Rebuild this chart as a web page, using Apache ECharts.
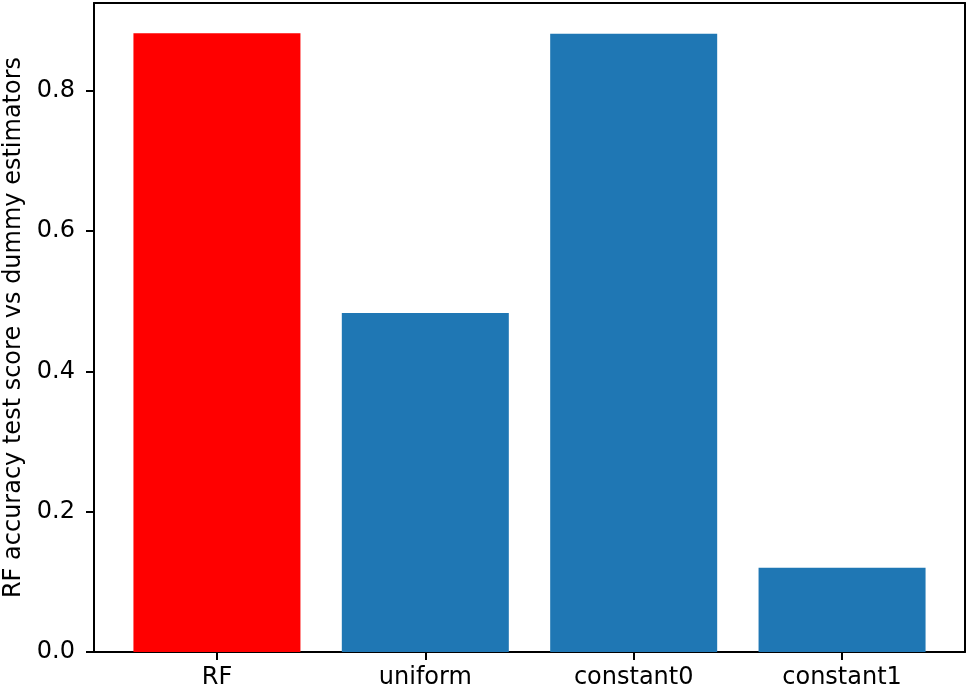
<!DOCTYPE html>
<html>
<head>
<meta charset="utf-8">
<script src="https://cdn.jsdelivr.net/npm/echarts@6/dist/echarts.min.js"></script>
<style>
  html, body { margin: 0; padding: 0; background: #fff; }
  #chart { width: 968px; height: 691px; }
</style>
</head>
<body>
<div id="chart"></div>
<script>
// data
var categories = ['RF', 'uniform', 'constant0', 'constant1']
var scores = [0.882, 0.483, 0.881, 0.12]
var barColors = ['#ff0000', '#1f77b4', '#1f77b4', '#1f77b4']
var yTicks = [0, 0.2, 0.4, 0.6, 0.8]
var xTicks = [0, 1, 2, 3]

var font = 'DejaVu Sans'
var chart = echarts.init(document.getElementById('chart'))

var barData = scores.map(function (v, i) {
  return { value: [i, v], itemStyle: { color: barColors[i] } }
})

var frameLine = { show: true, onZero: false, lineStyle: { color: '#000', width: 2 } }
var tickStyle = { color: '#000', width: 2 }

chart.setOption({
  animation: false,
  textStyle: { fontFamily: font },
  grid: { left: 94, right: 3, top: 3, bottom: 39, containLabel: false, outerBoundsMode: 'none' },
  xAxis: [
    {
      type: 'value',
      min: -0.59,
      max: 3.59,
      axisLine: frameLine,
      axisTick: { show: true, customValues: xTicks, length: 8, lineStyle: tickStyle },
      axisLabel: {
        customValues: xTicks,
        formatter: function (v) { return categories[Math.round(v)] },
        fontSize: 24, color: '#000', margin: 14, fontFamily: font
      },
      splitLine: { show: false }
    },
    {
      type: 'value', position: 'top', min: -0.59, max: 3.59,
      axisLine: frameLine, axisTick: { show: false }, axisLabel: { show: false }, splitLine: { show: false }
    }
  ],
  yAxis: [
    {
      type: 'value',
      min: 0,
      max: 0.925,
      name: 'RF accuracy test score vs dummy estimators',
      nameLocation: 'middle',
      nameRotate: 90,
      nameGap: 68,
      nameTextStyle: { fontSize: 24, color: '#000', fontFamily: font },
      axisLine: frameLine,
      axisTick: { show: true, customValues: yTicks, length: 8, lineStyle: tickStyle },
      axisLabel: {
        customValues: yTicks,
        formatter: function (v) { return v.toFixed(1) },
        fontSize: 24, color: '#000', margin: 19, fontFamily: font
      },
      splitLine: { show: false }
    },
    {
      type: 'value', position: 'right', min: 0, max: 0.925,
      axisLine: frameLine, axisTick: { show: false }, axisLabel: { show: false }, splitLine: { show: false }
    }
  ],
  series: [
    {
      type: 'bar',
      data: barData,
      barWidth: 167,
      xAxisIndex: 0,
      yAxisIndex: 0
    }
  ]
})
</script>
</body>
</html>
